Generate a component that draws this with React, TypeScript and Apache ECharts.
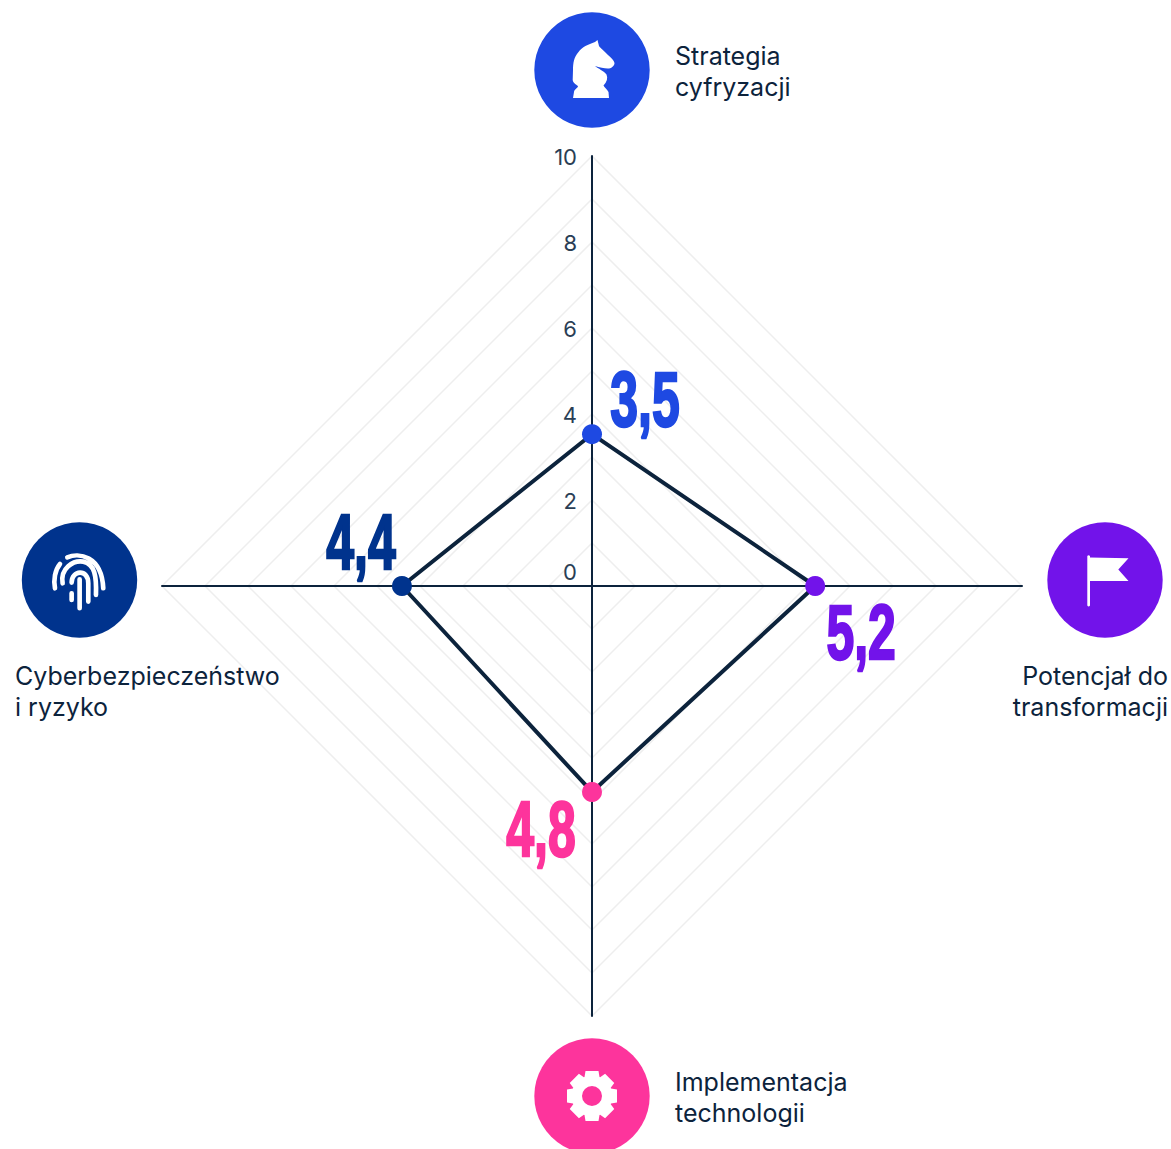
import React, { useEffect, useRef } from "react";
import * as echarts from "echarts";

const INK = "#0c233c";
const axesOrder = ["Strategia cyfryzacji", "Cyberbezpieczeństwo i ryzyko", "Implementacja technologii", "Potencjał do transformacji"];
const values = [3.53, 4.42, 4.79, 5.19];
const shownValues = ["3,5", "4,4", "4,8", "5,2"];
const pointColors = ["#1e49e2", "#00338d", "#fd349c", "#7213ea"];
const tickLabels = [0, 2, 4, 6, 8, 10];
const maxValue = 10;

const CX = 592;
const CY = 586;
const R = 430;
const dirs = [[0, -1], [-1, 0], [0, 1], [1, 0]];
const startAngles = [90, 180, 270, 0];
const labelOffsets = [[53, -35.5], [-41, -43.5], [-51, 37.5], [46, 46]];

const knight =
  "M573 98 L609 98 L608.5 92 C607 89 604 87 603.5 85.5 C607 82 608 78 606.5 74.5 C604 71 598 68.5 595 66 C600 67.5 606 69 609 68.5 C612.5 68 614.5 65 614.5 63 C614 60 611 58 608 55 C604 50.5 600 48 599 46 L597.5 40 L595 42 C588 44.5 582 47 578.5 52 C574 57 573 63 573 70 L572.7 80 C573 83 576 84.5 578 86 C578 88 574 89.5 574 92 Z";
const flag =
  "M1087.3 556 Q1088.6 554.5 1090 556 L1090 557.5 L1128.5 558.3 L1118.3 569.5 L1128.5 581 L1090 581 L1090 605.5 Q1088.6 607.5 1087.3 605.5 Z";
const fingerprint =
  "M82 52 C115 38 185 45 190 145 M60 72 C45 90 40 120 45 145 M68 130 C60 85 100 60 130 65 C165 72 170 110 168 165 M95 128 C95 90 145 85 145 130 L145 185 M119 118 L119 205 M95 160 L95 180";

function gearPath(cx: number, cy: number) {
  const teeth = 8;
  const ro = 25;
  const ri = 19;
  const hole = 10;
  const pts: string[] = [];
  for (let i = 0; i < teeth; i++) {
    const a = (i / teeth) * Math.PI * 2;
    const c = Math.cos(a);
    const s = Math.sin(a);
    const tw = 6.5;
    const local = [
      [ri, -tw - 1],
      [ro, -tw],
      [ro, tw],
      [ri, tw + 1],
    ];
    local.forEach(([u, v]) => {
      pts.push(`${cx + u * c - v * s} ${cy + u * s + v * c}`);
    });
  }
  return (
    "M" + pts.join(" L") + " Z " +
    `M${cx + hole} ${cy} A${hole} ${hole} 0 1 0 ${cx - hole} ${cy} A${hole} ${hole} 0 1 0 ${cx + hole} ${cy} Z`
  );
}

echarts.graphic.registerShape("knightIcon", echarts.graphic.extendPath(knight, {}) as any);
echarts.graphic.registerShape("flagIcon", echarts.graphic.extendPath(flag, {}) as any);
echarts.graphic.registerShape("fingerIcon", echarts.graphic.extendPath(fingerprint, {}) as any);
echarts.graphic.registerShape("gearIcon", echarts.graphic.extendPath(gearPath(592, 1096), {}) as any);

const FONT = "Inter";
const nameText = (x: number, y: number, text: string, align = "left") => ({
  type: "text",
  x,
  y,
  z: 50,
  silent: true,
  style: { text, fill: INK, font: `400 25px ${FONT}`, align, verticalAlign: "middle" },
});
const disc = (cx: number, cy: number, fill: string) => ({
  type: "circle",
  silent: true,
  shape: { cx, cy, r: 57.7 },
  style: { fill },
});

export default function App() {
  const ref = useRef<HTMLDivElement>(null);
  useEffect(() => {
    const chart = echarts.init(ref.current!, undefined, { renderer: "svg" });
    const hiddenAxis = {
      center: [CX, CY],
      radius: R,
      shape: "polygon",
      splitNumber: maxValue,
      axisName: { show: false },
      axisLine: { show: false },
      axisTick: { show: false },
      axisLabel: { show: false },
      splitLine: { show: false },
      splitArea: { show: false },
    };
    chart.setOption({
      animation: false,
      backgroundColor: "#ffffff",
      radar: [
        {
          center: [CX, CY],
          radius: R,
          splitNumber: maxValue,
          shape: "polygon",
          startAngle: 90,
          indicator: axesOrder.map((name) => ({ name, min: 0, max: maxValue })),
          axisName: { show: false },
          axisLine: { lineStyle: { color: INK, width: 2 } },
          axisTick: { show: false },
          axisLabel: { show: false },
          splitLine: { lineStyle: { color: "#eeeeee", width: 1.5 } },
          splitArea: { show: false },
        },
        ...axesOrder.map((name, i) => ({
          ...hiddenAxis,
          startAngle: startAngles[i],
          indicator: [{ name, min: 0, max: maxValue }],
        })),
      ],
      series: [
        {
          type: "radar",
          radarIndex: 0,
          silent: true,
          symbol: "none",
          lineStyle: { color: INK, width: 4 },
          data: [{ value: values }],
        },
        ...values.map((v, i) => ({
          type: "radar",
          radarIndex: i + 1,
          silent: true,
          symbol: "circle",
          symbolSize: 20,
          z: 5,
          lineStyle: { width: 0, opacity: 0 },
          itemStyle: { color: pointColors[i] },
          data: [{ value: [v] }],
        })),
      ],
      graphic: [
        disc(592, 70, "#1e49e2"),
        disc(1105, 580, "#7213ea"),
        disc(79.5, 580, "#00338d"),
        disc(592, 1096, "#fd349c"),
        { type: "knightIcon", x: 0, y: 0, z: 50, silent: true, style: { fill: "#fff" } },
        { type: "flagIcon", x: 0, y: 0, z: 50, silent: true, style: { fill: "#fff" } },
        { type: "gearIcon", x: 0, y: 0, z: 50, silent: true, style: { fill: "#fff" } },
        {
          type: "fingerIcon",
          x: 40,
          y: 540,
          z: 50,
          scaleX: 1 / 3,
          scaleY: 1 / 3,
          silent: true,
          style: { fill: "none", stroke: "#fff", lineWidth: 14, lineCap: "round" },
        },
        nameText(675, 56, "Strategia"),
        nameText(675, 87, "cyfryzacji"),
        nameText(1168, 676, "Potencjał do", "right"),
        nameText(1168, 707, "transformacji", "right"),
        nameText(15, 676, "Cyberbezpieczeństwo"),
        nameText(15, 707, "i ryzyko"),
        nameText(675, 1082, "Implementacja"),
        nameText(675, 1113, "technologii"),
        ...tickLabels.map((t) => ({
          type: "text",
          x: 577,
          y: t === 0 ? 572 : CY - (R * t) / maxValue + 1,
          z: 50,
          silent: true,
          style: { text: String(t), fill: "#2a3e55", font: `400 22px ${FONT}`, align: "right", verticalAlign: "middle" },
        })),
        ...values.map((v, i) => ({
          type: "text",
          x: CX + dirs[i][0] * (R * v) / maxValue + labelOffsets[i][0],
          y: CY + dirs[i][1] * (R * v) / maxValue + labelOffsets[i][1],
          z: 50,
          scaleX: 0.64,
          silent: true,
          style: {
            text: shownValues[i],
            fill: pointColors[i],
            stroke: pointColors[i],
            lineWidth: 2.5,
            lineJoin: "round",
            font: `700 78px "Liberation Sans"`,
            align: "center",
            verticalAlign: "middle",
          },
        })),
      ],
    } as any);
    return () => chart.dispose();
  }, []);
  return <div ref={ref} style={{ position: "absolute", left: 0, top: 0, width: 1171, height: 1149 }} />;
}
